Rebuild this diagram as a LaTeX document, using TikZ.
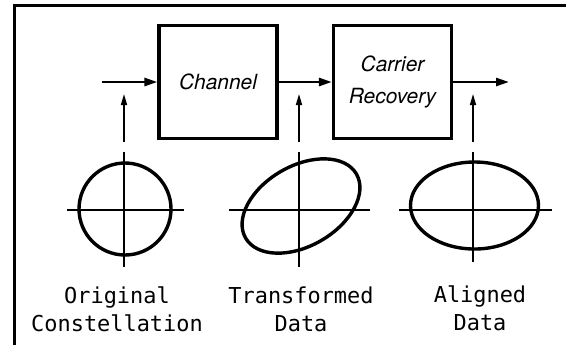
\documentclass[tikz,border=0pt]{standalone}
\usepackage{fontspec}
\setsansfont{TeX Gyre Heros}
\newfontfamily\labelmono{DejaVu Sans Mono}
\usetikzlibrary{arrows.meta}
\begin{document}
\begin{tikzpicture}[x=1bp,y=-1bp,
  blockbox/.style={draw,line width=3.2bp,minimum width=118bp,minimum height=113bp,
    inner sep=0pt,align=center,font=\sffamily\itshape\fontsize{21}{32}\selectfont},
  sig/.style={line width=2.6bp,-{Triangle[length=13bp,width=8bp]}},
  probe/.style={line width=1.6bp,-{Triangle[length=11bp,width=6bp]}},
  axis/.style={line width=1.8bp},
  curve/.style={line width=3.4bp},
  caption/.style={align=center,inner sep=0pt,font=\labelmono\fontsize{22}{28}\selectfont}]
\useasboundingbox (0,0) rectangle (566,345);
% open frame: only the top and left edges fall inside the page
\draw[line width=3bp] (566,5) -- (14,5) -- (14,345);

% signal chain
\node[blockbox] (ch) at (218,82) {Channel};
\node[blockbox] (cr) at (392.5,82) {Carrier\\Recovery};
\coordinate (in) at (102,82);
\coordinate (out) at (509,82);
\draw[sig] (in) -- (ch.west);
\draw[sig] (ch.east) -- (cr.west);
\draw[sig] (cr.east) -- (out);

% probe arrows from each plot up to the signal path
\coordinate (p1) at (124,142);  \coordinate (t1) at (124,94);
\coordinate (p2) at (299,142);  \coordinate (t2) at (299,94);
\coordinate (p3) at (473,142);  \coordinate (t3) at (473,94);
\draw[probe] (p1) -- (t1);
\draw[probe] (p2) -- (t2);
\draw[probe] (p3) -- (t3);

% original constellation
\draw[axis] (67,210) -- (184,210);
\draw[axis] (124,152) -- (124,267);
\draw[curve] (125,209) circle [radius=46bp];

% transformed data
\draw[axis] (229,210) -- (370,210);
\draw[axis] (299,152) -- (299,267);
\draw[curve] (301,206) ellipse [x radius=64bp,y radius=40bp,rotate=30];

% aligned data
\draw[axis] (399,210) -- (552,210);
\draw[axis] (473,152) -- (473,262);
\draw[curve] (474.5,205.5) ellipse [x radius=64bp,y radius=43.5bp];

% captions
\node[caption] (l1) at (117,309) {Original\\Constellation};
\node[caption] (l2) at (301,309) {Transformed\\Data};
\node[caption] (l3) at (480,308) {Aligned\\Data};
\end{tikzpicture}
\end{document}
